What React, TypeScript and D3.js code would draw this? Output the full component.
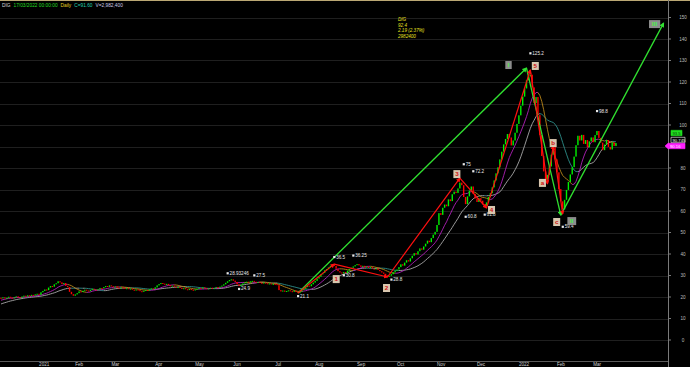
import React from 'react';
import * as d3 from 'd3';

// ---------- DATA ----------
// Nov 2020 closes (only used to seed the moving averages, lie left of the visible plot)
const warmupCloses = [13.2, 13.8, 14.5, 14.1, 15.0, 15.6, 15.2, 16.0, 16.5, 16.2, 17.1, 17.6, 17.3, 18.2, 18.8, 18.5, 19.2, 19.0, 19.6];
const closesDec20 = [19.5, 19.8, 19.3, 19.6, 20.1, 19.7, 19.4, 19.9, 20.3, 20.0, 19.6, 20.2, 20.6, 20.2, 20.8, 20.5, 21.0, 20.7, 21.2, 21.5];
const closesJan21 = [21.0, 22.2, 22.8, 23.5, 23.2, 24.4, 25.1, 24.8, 25.9, 26.4, 27.3, 26.8, 26.0, 26.5, 25.2, 24.6, 22.4, 21.3, 20.6];
const closesFeb21 = [21.2, 21.8, 22.6, 22.3, 22.9, 23.4, 23.0, 22.7, 23.3, 23.8, 23.5, 23.1, 23.6, 24.2, 24.0, 24.6, 25.1, 24.7, 25.4];
const closesMar21 = [25.0, 24.6, 24.9, 24.3, 24.0, 24.5, 24.2, 23.8, 24.1, 23.7, 23.9, 23.4, 23.0, 23.5, 23.2, 22.7, 22.4, 22.9, 23.3, 23.0, 23.6, 24.0, 23.8];
const closesApr21 = [24.5, 25.4, 26.0, 26.5, 26.2, 25.8, 26.1, 25.5, 25.0, 25.3, 24.8, 24.4, 24.7, 24.2, 23.9, 24.1, 23.6, 23.3, 23.7, 23.4, 23.1];
const closesMay21 = [23.5, 23.8, 24.2, 23.9, 24.5, 24.1, 23.7, 24.0, 24.3, 23.8, 24.2, 24.6, 24.3, 24.8, 25.3, 25.9, 26.6, 27.3, 27.9, 28.2];
const closesJun21 = [27.6, 27.0, 25.9, 25.1, 25.6, 26.3, 26.8, 27.1, 26.7, 27.3, 27.5, 27.1, 26.8, 27.0, 26.6, 26.3, 26.7, 26.4, 26.0, 26.3, 25.9, 26.1];
const closesJul21 = [26.0, 25.5, 23.2, 22.6, 23.0, 22.5, 22.8, 23.1, 22.7, 22.4, 22.9, 22.3, 21.8, 22.4, 23.2, 23.8, 24.6, 25.3, 25.0, 25.9, 26.7];
const closesAug21 = [27.5, 28.6, 29.4, 30.5, 31.2, 32.4, 33.0, 33.8, 34.6, 35.2, 34.4, 33.1, 32.0, 31.4, 31.0, 31.6, 31.2, 32.3, 33.0, 33.6, 34.2, 34.8];
const closesSep21 = [35.3, 34.7, 34.0, 34.5, 33.8, 34.2, 33.5, 33.9, 33.2, 32.8, 33.3, 32.6, 32.0, 31.4, 30.8, 30.1, 29.5, 29.9, 30.6, 31.5, 32.2];
const closesOct21 = [32.8, 33.9, 35.2, 34.6, 36.0, 37.1, 36.5, 38.0, 39.2, 40.4, 39.8, 41.3, 42.6, 42.0, 43.5, 44.8, 46.2, 45.5, 47.4, 49.0, 50.3];
const closesNov21 = [53.5, 59.0, 58.2, 61.5, 63.0, 62.2, 65.4, 64.6, 67.8, 69.0, 68.4, 70.5, 73.2, 72.0, 66.5, 63.2, 66.8, 69.5, 71.4, 68.0, 65.8];
const closesDec21 = [64.2, 66.0, 64.8, 63.1, 62.4, 64.0, 66.5, 68.3, 71.0, 74.2, 77.5, 80.3, 84.0, 87.6, 91.0, 93.5, 95.8, 94.2, 90.5, 92.8, 96.4, 100.5];
const closesJan22 = [104.5, 109.0, 113.2, 117.0, 120.8, 122.6, 123.4, 117.5, 110.2, 113.0, 104.6, 95.3, 85.6, 78.4, 74.5, 76.8, 80.7, 86.2, 89.8, 84.0];
const closesFeb22 = [78.0, 70.2, 64.5, 60.8, 65.2, 69.8, 73.5, 77.0, 80.4, 85.3, 90.6, 95.0, 92.8, 95.4, 91.2, 93.0, 89.6, 92.4, 94.2];
const closesMar22 = [92.0, 95.3, 97.2, 94.0, 91.8, 88.3, 90.9, 93.0, 89.8, 88.6, 91.9, 90.2, 91.6];

const closes = [
  ...closesDec20, ...closesJan21, ...closesFeb21, ...closesMar21, ...closesApr21, ...closesMay21,
  ...closesJun21, ...closesJul21, ...closesAug21, ...closesSep21, ...closesOct21, ...closesNov21,
  ...closesDec21, ...closesJan22, ...closesFeb22, ...closesMar22,
];

const firstDay = '2020-12-03';
const holidays = ['2020-12-25', '2021-01-01', '2021-01-18', '2021-02-15', '2021-04-02', '2021-05-31', '2021-07-05', '2021-09-06', '2021-11-25', '2021-12-24', '2022-01-17', '2022-02-21'];

const yTicks = [0, 10, 20, 30, 40, 50, 60, 70, 80, 90, 100, 110, 120, 130, 140, 150];
const monthNames = ['Jan', 'Feb', 'Mar', 'Apr', 'May', 'Jun', 'Jul', 'Aug', 'Sep', 'Oct', 'Nov', 'Dec'];

// Elliott wave pivots: [bar index, price, label]
const redWave: [number, number, string][] = [
  [156, 21.9, ''], [175, 35.3, '1'], [203, 29.3, '2'], [241, 75.3, '3'], [255, 61.4, '4'],
  [278, 125.6, '5'], [287, 72.6, 'a'], [290, 90.2, 'b'], [295, 58.6, 'c'],
];
const greenWave: [number, number, string][] = [
  [156, 21.9, ''], [276, 126.5, 'I'], [294, 58.1, 'II'], [348, 147.4, 'III'],
];
// label box offsets (px) relative to pivot
const redLabelOffsets: Record<string, [number, number]> = {
  '1': [2, 15], '2': [-1, 11], '3': [-3, -4], '4': [5, 2], '5': [5, -4], a: [-5, -1], b: [0, -3], c: [-6, 8],
};
const greenLabelOffsets: Record<string, [number, number]> = { I: [-18, -3], II: [11, 6], III: [-9, 1] };

// price annotations: [bar index, price, text, dy px]
const priceNotes: [number, number, string, number][] = [
  [119, 28.93246, '28.93246', -3], [125, 24.9, '24.9', 4], [133, 27.5, '27.5', -4], [156, 21.1, '21.1', 3],
  [175, 36.5, '36.5', -3], [180, 30.8, '30.8', 3], [185, 36.25, '36.25', -5], [205, 28.8, '28.8', 3],
  [243, 75, '75', -13], [248, 72.2, '72.2', -12], [244, 60.8, '60.8', 9], [254, 61.8, '61.8', 9],
  [278, 125.2, '125.2', -16], [313, 98.8, '98.8', -15], [295, 59.4, '59.4', 16],
];

const infoLines = ['DIG', '92.4', '2.19 (2.37%)', '2982400'];
const titleParts: [string, string][] = [
  ['DIG', '#d8d8d8'], ['17/03/2022 00:00:00', '#22dd22'], ['Daily', '#e0d020'], ['C=91.60', '#20d0b0'], ['V=2,982,400', '#c8c8e8'],
];
// right-side last-value tags: text, fill, stroke, text colour
const rightTags: [string, string, string, string][] = [
  ['93.5', '#1fe01f', '#1fe01f', '#0a3a0a'],
  ['90.745', '#000000', '#ffffff', '#ffffff'],
  ['90.16', '#ff20ff', '#ff20ff', '#ffffff'],
];
const rightTagCenters = [133, 140, 146];

// ---------- HELPERS ----------
function tradingDates(start: string, n: number): Date[] {
  const out: Date[] = [];
  const hol = new Set(holidays);
  const d = new Date(start + 'T00:00:00Z');
  while (out.length < n) {
    const dow = d.getUTCDay();
    const iso = d.toISOString().slice(0, 10);
    if (dow !== 0 && dow !== 6 && !hol.has(iso)) out.push(new Date(d));
    d.setUTCDate(d.getUTCDate() + 1);
  }
  return out;
}

function sma(values: number[], period: number): number[] {
  return values.map((_, i) => (i < period - 1 ? NaN : d3.mean(values.slice(i - period + 1, i + 1)) as number));
}

const FONT = 'Liberation Sans, Arial, sans-serif';

export default function App() {
  const W = 690, H = 367;
  const plotR = 668, plotB = 361;
  const n = closes.length;
  const dates = tradingDates(firstDay, n);
  const x = d3.scaleLinear().domain([0, n - 1]).range([1, 616]);
  const y = d3.scaleLinear().domain([0, 150]).range([340, 17.5]);

  const all = [...warmupCloses, ...closes];
  const off = warmupCloses.length;
  const ma20 = sma(all, 20).slice(off);
  const ma10 = sma(all, 10).slice(off);

  const candles = closes.map((c, i) => {
    const o = i === 0 ? warmupCloses[warmupCloses.length - 1] : closes[i - 1];
    return { i, o, c, up: c >= o };
  });

  const monthTicks: { i: number; label: string }[] = [];
  dates.forEach((d, i) => {
    if (i === 0) return;
    if (d.getUTCMonth() !== dates[i - 1].getUTCMonth()) {
      const m = d.getUTCMonth();
      monthTicks.push({ i, label: m === 0 ? String(d.getUTCFullYear()) : monthNames[m] });
    }
  });

  const segs = (vals: number[], upColor: string, downColor: string) =>
    vals.slice(1).map((v, j) => {
      const a = vals[j];
      if (isNaN(a) || isNaN(v)) return null;
      return { x1: x(j), y1: y(a), x2: x(j + 1), y2: y(v), color: v >= a ? upColor : downColor };
    }).filter(Boolean) as { x1: number; y1: number; x2: number; y2: number; color: string }[];

  const slowSegs = segs(ma20, '#a8a8a8', '#2e8f8a');
  const fastSegs = segs(ma10, '#b020b8', '#b8861a');

  const waveLine = d3.line<[number, number, string]>().x((d) => x(d[0])).y((d) => y(d[1]));

  const bw = 1.4;

  return (
    <svg width={W} height={H} style={{ position: 'absolute', left: 0, top: 0, background: '#000' }} fontFamily={FONT}>
      <defs>
        <clipPath id="plot"><rect x={0} y={0} width={plotR} height={plotB} /></clipPath>
        <marker id="arrRed" viewBox="0 0 10 10" refX="8" refY="5" markerWidth="4.5" markerHeight="4.5" orient="auto" markerUnits="userSpaceOnUse">
          <path d="M0,0 L10,5 L0,10 z" fill="#ff1010" />
        </marker>
        <marker id="arrGreen" viewBox="0 0 10 10" refX="8" refY="5" markerWidth="5" markerHeight="5" orient="auto" markerUnits="userSpaceOnUse">
          <path d="M0,0 L10,5 L0,10 z" fill="#30e030" />
        </marker>
      </defs>
      <rect x={0} y={0} width={W} height={H} fill="#000" />
      <line x1={0} x2={W} y1={0.5} y2={0.5} stroke="#bba874" />

      {/* gridlines */}
      {yTicks.map((t) => (
        <line key={'g' + t} x1={0} x2={plotR} y1={Math.round(y(t)) + 0.5} y2={Math.round(y(t)) + 0.5} stroke="#1f1f1f" strokeWidth={1} />
      ))}

      <g clipPath="url(#plot)">
        {/* moving averages */}
        {slowSegs.map((s, k) => (
          <line key={'s' + k} x1={s.x1} y1={s.y1} x2={s.x2} y2={s.y2} stroke={s.color} strokeWidth={0.9} />
        ))}
        {fastSegs.map((s, k) => (
          <line key={'f' + k} x1={s.x1} y1={s.y1} x2={s.x2} y2={s.y2} stroke={s.color} strokeWidth={0.9} />
        ))}
        {/* candles */}
        {candles.map((d) => {
          const top = y(Math.max(d.o, d.c));
          const h = Math.max(1, Math.abs(y(d.o) - y(d.c)));
          return <rect key={'c' + d.i} x={x(d.i) - bw / 2} y={top} width={bw} height={h} fill={d.up ? '#00f000' : '#ff0000'} />;
        })}

        {/* waves */}
        {greenWave.slice(1).map((p, k) => (
          <path key={'gw' + k} d={waveLine([greenWave[k], p]) as string} stroke="#30e030" strokeWidth={1.3} fill="none" markerEnd="url(#arrGreen)" />
        ))}
        {redWave.slice(1).map((p, k) => (
          <path key={'rw' + k} d={waveLine([redWave[k], p]) as string} stroke="#ff1010" strokeWidth={1.2} fill="none" markerEnd="url(#arrRed)" />
        ))}

        {/* price notes */}
        {priceNotes.map(([i, v, t, dy], k) => (
          <g key={'pn' + k}>
            <rect x={x(i) - 1} y={y(v) + dy - 2.6} width={2.2} height={2.2} fill="#e8e8e8" />
            <text x={x(i) + 2} y={y(v) + dy} fontSize={4.6} fill="#e8e8e8">{t}</text>
          </g>
        ))}

        {/* wave labels */}
        {redWave.filter((p) => p[2]).map(([i, v, l]) => {
          const [dx, dy] = redLabelOffsets[l];
          const cx = x(i) + dx, cy = y(v) + dy;
          return (
            <g key={'rl' + l}>
              <rect x={cx - 3.5} y={cy - 4} width={7} height={8} fill="#d8c6ae" />
              <text x={cx} y={cy + 2.3} fontSize={6.2} textAnchor="middle" fill="#d01010" fontWeight="bold">{l}</text>
            </g>
          );
        })}
        {greenWave.filter((p) => p[2]).map(([i, v, l]) => {
          const [dx, dy] = greenLabelOffsets[l];
          const cx = x(i) + dx, cy = y(v) + dy;
          const w = 4 + l.length * 2.4;
          return (
            <g key={'gl' + l}>
              <rect x={cx - w / 2} y={cy - 4} width={w} height={8} fill="#8c8c8c" />
              <text x={cx} y={cy + 2.3} fontSize={6} textAnchor="middle" fill="#48f048" fontWeight="bold">{l}</text>
            </g>
          );
        })}
      </g>

      {/* info box text */}
      {infoLines.map((t, k) => (
        <text key={'in' + k} x={398} y={21 + k * 5.6} fontSize={4.6} fill="#e8e020" fontStyle="italic">{t}</text>
      ))}

      {/* title */}
      <text x={2} y={6.5} fontSize={4.8}>
        {titleParts.map(([t, c], k) => (
          <tspan key={'t' + k} fill={c} dx={k === 0 ? 0 : 3}>{t}</tspan>
        ))}
      </text>

      {/* right axis */}
      <line x1={plotR + 0.5} x2={plotR + 0.5} y1={0} y2={H} stroke="#7a7a7a" />
      <line x1={0} x2={plotR} y1={plotB + 0.5} y2={plotB + 0.5} stroke="#5a5a5a" />
      {yTicks.map((t) => (
        <g key={'yt' + t}>
          <line x1={plotR} x2={plotR + 3} y1={y(t)} y2={y(t)} stroke="#7a7a7a" />
          {t !== 90 && <text x={683} y={y(t) + 1.7} fontSize={4.6} fill="#bdbdbd" textAnchor="middle">{t}</text>}
        </g>
      ))}

      {/* right price tags */}
      {rightTags.map(([t, bg, st, fg], k) => {
        const cy = rightTagCenters[k];
        const x0 = k === 2 ? plotR - 3 : plotR + 3;
        const w = k === 0 ? 11 : k === 1 ? 14 : 20;
        return (
          <g key={'rt' + k}>
            <path
              d={k === 2
                ? `M${x0},${cy} L${x0 + 3},${cy - 2.7} L${x0 + w},${cy - 2.7} L${x0 + w},${cy + 2.7} L${x0 + 3},${cy + 2.7} Z`
                : `M${x0},${cy - 2.7} L${x0 + w},${cy - 2.7} L${x0 + w},${cy + 2.7} L${x0},${cy + 2.7} Z`}
              fill={bg} stroke={st} strokeWidth={0.6}
            />
            <text x={x0 + (k === 2 ? 5 : 1.5)} y={cy + 1.6} fontSize={4.2} fill={fg}>{t}</text>
          </g>
        );
      })}

      {/* x axis labels */}
      {monthTicks.map((m) => (
        <text key={'m' + m.i} x={x(m.i)} y={365.5} fontSize={4.6} fill="#cfcfcf">{m.label}</text>
      ))}
    </svg>
  );
}
